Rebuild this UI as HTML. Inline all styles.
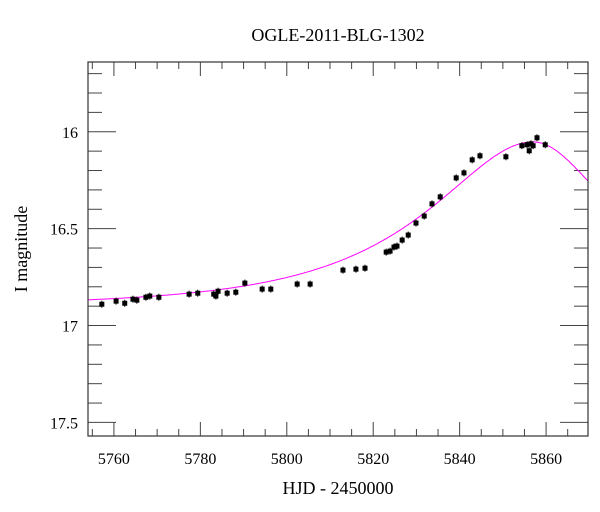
<!DOCTYPE html>
<html><head><meta charset="utf-8"><style>
body{margin:0;background:#fff;}
svg{display:block;font-family:"Liberation Serif",serif;}
</style></head><body>
<svg id="c" width="600" height="512">
<text x="338" y="41" font-size="18" text-anchor="middle">OGLE-2011-BLG-1302</text>
<text x="338" y="494" font-size="18" text-anchor="middle">HJD - 2450000</text>
<text transform="translate(27,249) rotate(-90)" font-size="18" text-anchor="middle">I magnitude</text>
<g id="ticks"></g><g id="model"></g><g id="pts"></g>
<rect x="88" y="62" width="500" height="374" fill="none" stroke="#333" stroke-width="1.2"/>
</svg>
<script>
const hjd=[5757.2,5760.5,5762.5,5764.4,5765.3,5767.4,5768.3,5770.4,5777.4,5779.4,5783.1,5784.1,5783.6,5786.2,5788.2,5790.3,5794.3,5796.3,5802.4,5805.4,5813.0,5816.0,5818.1,5823.0,5823.9,5824.8,5825.5,5826.7,5828.1,5829.9,5831.8,5833.6,5835.5,5839.2,5841.0,5842.9,5844.7,5850.7,5854.4,5855.6,5856.1,5856.5,5857.0,5857.9,5859.8];
const imag=[16.89,16.874,16.885,16.864,16.869,16.854,16.848,16.854,16.838,16.833,16.838,16.823,16.848,16.833,16.828,16.781,16.812,16.812,16.786,16.786,16.714,16.709,16.704,16.621,16.616,16.595,16.59,16.559,16.533,16.471,16.435,16.372,16.336,16.238,16.212,16.145,16.124,16.129,16.072,16.067,16.098,16.062,16.072,16.031,16.067];
const xTicks=[5760,5780,5800,5820,5840,5860];
const yTicks=[16,16.5,17,17.5];
const modelParams=[5857,0.5,42,33,16.9]; // t0,u0,tE rise,tE fall,Ibase
const NS="http://www.w3.org/2000/svg";
const X0=88,X1=588,Y0=62,Y1=436,xmin=5754,xmax=5869.7,ymin=15.64,ymax=17.57;
const sx=v=>X0+(v-xmin)/(xmax-xmin)*(X1-X0);
const sy=v=>Y0+(v-ymin)/(ymax-ymin)*(Y1-Y0);
function mk(t,a,p){const e=document.createElementNS(NS,t);for(const k in a)e.setAttribute(k,a[k]);p.appendChild(e);return e;}
const tg=document.getElementById('ticks');
for(let v=5755;v<=5869;v+=5){const maj=v%20===0;const L=maj?14:7;const x=sx(v);
 const l1=mk('line',{x1:x,x2:x,y1:Y1,y2:Y1-L,stroke:'#444'},tg);
 const l2=mk('line',{x1:x,x2:x,y1:Y0,y2:Y0+L,stroke:'#444'},tg);}
xTicks.forEach(v=>{const t=mk('text',{x:sx(v),y:464,'font-size':16,'text-anchor':'middle'},tg);t.textContent=v;
 });
for(let i=17;i<=175;i++){const v=i/10;const maj=i%5===0;const L=maj?28:14;const y=sy(v);if(y<Y0||y>Y1)continue;
 const l1=mk('line',{x1:X0,x2:X0+L,y1:y,y2:y,stroke:'#444'},tg);
 const l2=mk('line',{x1:X1,x2:X1-L,y1:y,y2:y,stroke:'#444'},tg);}
yTicks.forEach(v=>{const t=mk('text',{x:78,y:sy(v)+6,'font-size':16,'text-anchor':'end'},tg);t.textContent=v;
 });
function modelMag(t){const[t0,u0,tR,tF,Ib]=modelParams;const tE=t<t0?tR:tF;const u=Math.sqrt(u0*u0+((t-t0)/tE)**2);
 const A=(u*u+2)/(u*Math.sqrt(u*u+4));return Ib-2.5*Math.log10(A);}
let d='';for(let i=0;i<=400;i++){const t=xmin+(xmax-xmin)*i/400;d+=(i?'L':'M')+sx(t).toFixed(1)+','+sy(modelMag(t)).toFixed(1);}
const pth=mk('path',{d:d,fill:'none',stroke:'#ff00ff','stroke-width':1},document.getElementById('model'));


const pg=document.getElementById('pts');
hjd.forEach((t,i)=>{const x=sx(t),y=sy(imag[i]);
 mk('line',{x1:x,x2:x,y1:y-3.5,y2:y+3.5,stroke:'#000'},pg);
 const r=mk('rect',{x:x-2.5,y:y-2.5,width:5,height:5,fill:'#000'},pg);
 
 });
</script>
</body></html>
